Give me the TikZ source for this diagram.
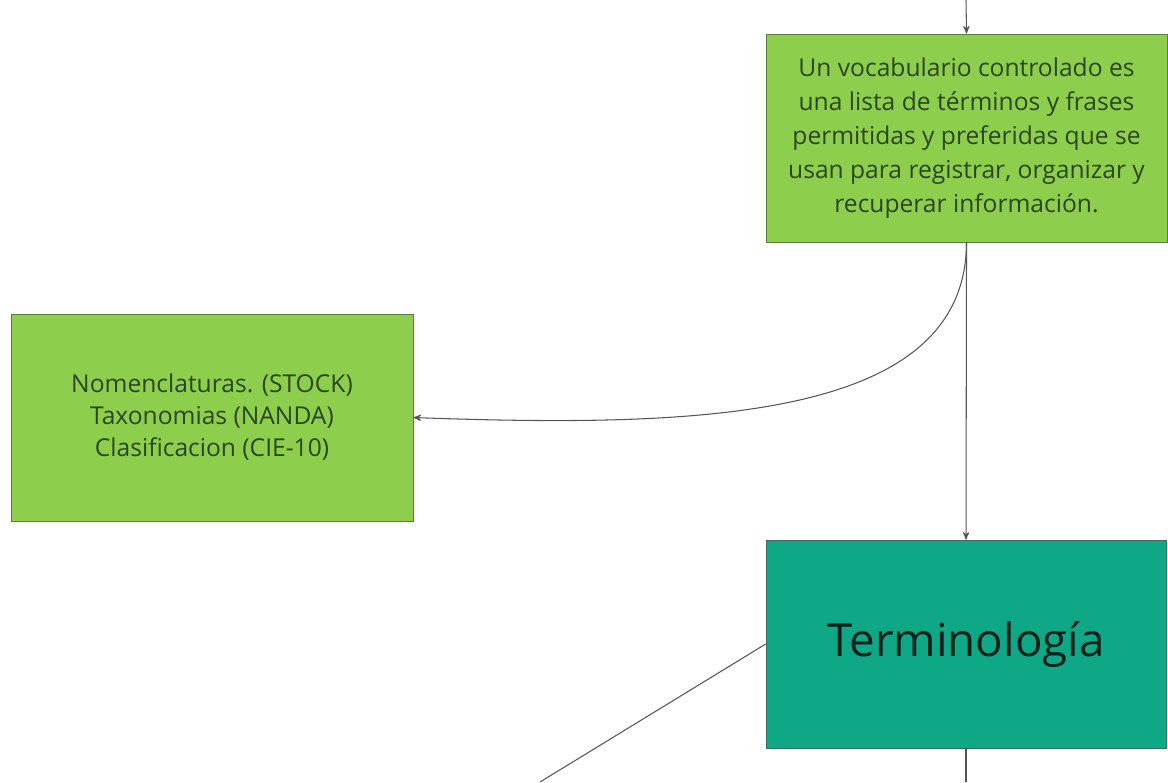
\documentclass[tikz,border=0pt]{standalone}
\usepackage{fontspec}
\setmainfont{Open Sans}
\usetikzlibrary{arrows}

\definecolor{leaf}{HTML}{8DCF4D}
\definecolor{leafline}{HTML}{5C7F3C}
\definecolor{teal}{HTML}{0FA887}
\definecolor{tealline}{HTML}{3F6B60}
\definecolor{ink}{HTML}{2B4520}
\definecolor{wire}{HTML}{555555}

\begin{document}
\begin{tikzpicture}[->,>=stealth',x=0.02cm,y=-0.02cm]

    \useasboundingbox (0,0) rectangle (1168,782);

    \node[rectangle,
          draw = leafline,
          fill = leaf,
          minimum width = 8.02cm,
          minimum height = 4.16cm,
          align = center,
          text = ink,
          font = \fontsize{14}{19.4}\selectfont
          ] (voc) at (966.5,138) {Un vocabulario controlado es\\una lista de términos y frases\\permitidas y preferidas que se\\usan para registrar, organizar y\\recuperar información.};

    \node[rectangle,
          draw = leafline,
          fill = leaf,
          minimum width = 8.04cm,
          minimum height = 4.14cm,
          align = center,
          text = ink,
          font = \fontsize{14}{18.2}\selectfont
          ] (nom) at (212,417.5) {Nomenclaturas. (STOCK)\\Taxonomias (NANDA)\\Clasificacion (CIE-10)};

    \node[rectangle,
          draw = tealline,
          fill = teal,
          minimum width = 8cm,
          minimum height = 4.16cm,
          text = black!80!teal,
          font = \fontsize{26}{30}\selectfont
          ] (term) at (966,644) {Terminología};

    \coordinate (top) at (966,0);
    \coordinate (outl) at (540,782);
    \coordinate (outb) at (966,782);

    \path[every edge/.append style={draw = wire, line width = 0.6pt}]
    (top) edge [] (voc.north)
    (voc.south) edge [] (term.north);

    \draw[wire, line width = 0.6pt] (voc.south) .. controls (966,420) and (700,428) .. (nom.east);
    \draw[wire, line width = 0.6pt, -] (term.west) -- (outl);
    \draw[wire, line width = 0.6pt, -] (term.south) -- (outb);

\end{tikzpicture}
\end{document}
